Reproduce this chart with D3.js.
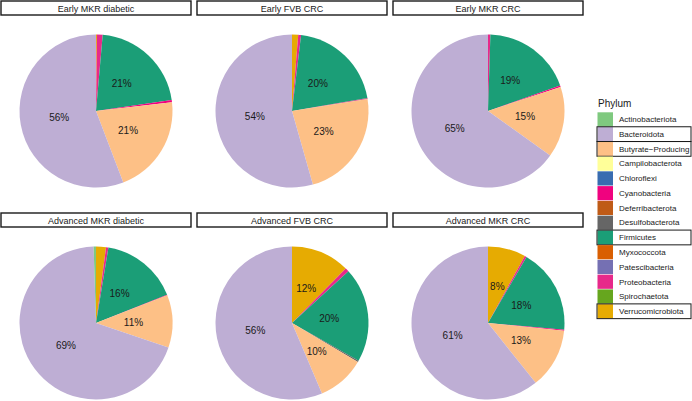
<!DOCTYPE html>
<html>
<head>
<meta charset="utf-8">
<script src="https://cdn.jsdelivr.net/npm/d3@7"></script>
<style>
body { margin: 0; background: #fff; }
text { font-family: "Liberation Sans", Arial, sans-serif; }
</style>
</head>
<body>
<div id="chart"></div>
<script>
// phyla, in legend order
var phyla = ['Actinobacteriota', 'Bacteroidota', 'Butyrate\u2212Producing', 'Campilobacterota', 'Chloroflexi',
	'Cyanobacteria', 'Deferribacterota', 'Desulfobacterota', 'Firmicutes', 'Myxococcota',
	'Patescibacteria', 'Proteobacteria', 'Spirochaetota', 'Verrucomicrobiota'];
var colours = ['#7FC97F', '#BEAED4', '#FDC086', '#FFFF99', '#386CB0', '#F0027F', '#BF5B17',
	'#666666', '#1B9E77', '#D95F02', '#7570B3', '#E7298A', '#66A61E', '#E6AB02'];
var boxed = ['Bacteroidota', 'Butyrate\u2212Producing', 'Firmicutes', 'Verrucomicrobiota'];

var samples = ['Early MKR diabetic', 'Early FVB CRC', 'Early MKR CRC',
	'Advanced MKR diabetic', 'Advanced FVB CRC', 'Advanced MKR CRC'];

// relative abundance (%) per sample, same order as phyla
var earlyMkrDiabetic    = [0, 55.8, 21.0, 0, 0, 0.5, 0, 0, 21.3, 0, 0, 1.2, 0, 0.2];
var earlyFvbCrc         = [0, 54.4, 23.1, 0, 0, 0.1, 0, 0.1, 20.4, 0, 0, 0.6, 0, 1.3];
var earlyMkrCrc         = [0, 65.1, 15.0, 0, 0, 0.3, 0, 0, 19.1, 0, 0, 0.5, 0, 0];
var advancedMkrDiabetic = [0.5, 69.3, 11.1, 0, 0, 0.1, 0, 0, 16.4, 0, 0, 0.5, 0, 2.1];
var advancedFvbCrc      = [0, 56.4, 10.1, 0, 0, 0, 0, 0.3, 20.0, 0, 0, 0.8, 0, 12.4];
var advancedMkrCrc      = [0, 60.7, 12.7, 0, 0, 0.2, 0, 0, 18.0, 0, 0, 0.4, 0, 8.0];

var values = [earlyMkrDiabetic, earlyFvbCrc, earlyMkrCrc, advancedMkrDiabetic, advancedFvbCrc, advancedMkrCrc];

var W = 692, H = 401;
var svg = d3.select('#chart').append('svg')
	.attr('width', W)
	.attr('height', H);

var colour = d3.scaleOrdinal().domain(phyla).range(colours);

var panelW = 190, panelStep = 196;
var rowTop = [1, 213];
var radius = 76.5;

// slices go clockwise from the top in reverse legend order
var pie = d3.pie()
	.sort(null)
	.value(function(d) { return d.v; });

var arc = d3.arc().innerRadius(0).outerRadius(radius);
var labelArc = d3.arc().innerRadius(radius*0.49).outerRadius(radius*0.49);

samples.forEach(function(name, i) {
	var col = i % 3, row = Math.floor(i / 3);
	var x0 = 1 + col*panelStep, y0 = rowTop[row];
	var g = svg.append('g').attr('transform', 'translate(' + x0 + ',' + y0 + ')');

	// strip
	g.append('rect')
		.attr('x', 0).attr('y', 0)
		.attr('width', panelW).attr('height', 14)
		.attr('fill', '#fff')
		.attr('stroke', '#1a1a1a')
		.attr('stroke-width', 1.4);
	g.append('text')
		.attr('x', panelW/2).attr('y', 10.5)
		.attr('text-anchor', 'middle')
		.attr('font-size', '9px')
		.attr('fill', '#1a1a1a')
		.text(name);

	var data = phyla.map(function(p, j) {
		return {'p': p, 'v': values[i][j]};
	}).reverse();

	var pg = g.append('g').attr('transform', 'translate(95,' + 110 + ')');
	var arcs = pie(data);

	pg.selectAll('path')
		.data(arcs)
		.enter()
			.append('path')
				.attr('d', arc)
				.attr('fill', function(d) { return colour(d.data.p); });

	pg.selectAll('text')
		.data(arcs.filter(function(d) { return d.data.v >= 5; }))
		.enter()
			.append('text')
				.attr('transform', function(d) { return 'translate(' + labelArc.centroid(d) + ')'; })
				.attr('text-anchor', 'middle')
				.attr('dy', '0.35em')
				.attr('font-size', '10px')
				.attr('fill', '#1a1a1a')
				.text(function(d) { return Math.round(d.data.v) + '%'; });
});

// legend
var lg = svg.append('g').attr('transform', 'translate(597,112)');
var keyH = 14.76;

lg.append('text')
	.attr('x', 1).attr('y', -5)
	.attr('font-size', '10px')
	.attr('fill', '#1a1a1a')
	.text('Phylum');

var item = lg.selectAll('.item')
	.data(phyla)
	.enter()
		.append('g')
			.attr('class', 'item')
			.attr('transform', function(d, i) { return 'translate(0,' + (i*keyH) + ')'; });

item.append('rect')
	.attr('x', 0.5).attr('y', 0.3)
	.attr('width', 15.5).attr('height', keyH - 0.6)
	.attr('fill', function(d) { return colour(d); });

item.append('text')
	.attr('x', 22).attr('y', keyH/2)
	.attr('dy', '0.35em')
	.attr('font-size', '8px')
	.attr('fill', '#1a1a1a')
	.text(function(d) { return d; });

item.filter(function(d) { return boxed.indexOf(d) >= 0; })
	.append('rect')
		.attr('x', 0).attr('y', 0)
		.attr('width', 94).attr('height', keyH)
		.attr('fill', 'none')
		.attr('stroke', '#1a1a1a')
		.attr('stroke-width', 1);
</script>
</body>
</html>
